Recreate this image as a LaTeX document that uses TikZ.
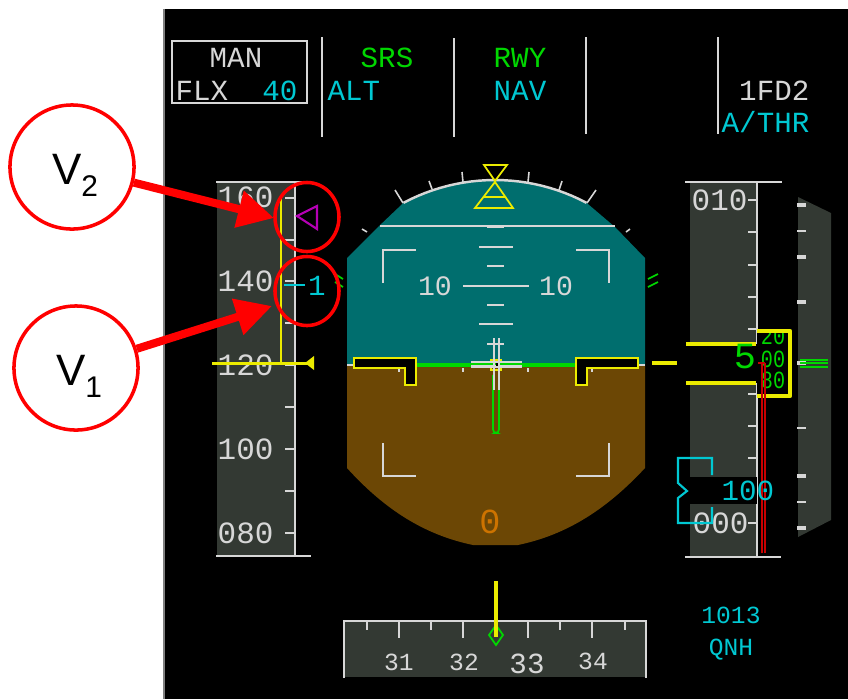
\documentclass[tikz,border=0pt]{standalone}
\usepackage{fontspec}
\setmainfont{Liberation Sans}
\setmonofont{Liberation Mono}
\usetikzlibrary{arrows.meta,shapes.geometric}

\definecolor{skyc}{RGB}{0,110,110}
\definecolor{groundc}{RGB}{108,71,5}
\definecolor{tapec}{RGB}{51,57,51}
\definecolor{linec}{RGB}{215,215,215}
\definecolor{cyanc}{RGB}{0,200,210}
\definecolor{greenc}{RGB}{0,215,0}
\definecolor{yellowc}{RGB}{235,235,0}
\definecolor{redc}{RGB}{200,0,0}
\definecolor{magc}{RGB}{180,0,180}
\definecolor{orangec}{RGB}{205,115,0}

\newcommand{\subnum}[1]{\raisebox{-.5ex}{\fontsize{8.5}{9}\selectfont #1}}

\tikzset{
  pfd/.style={font=\ttfamily\fontsize{8.3}{9}\selectfont, text=linec, inner sep=0pt, text height=5.5pt, text depth=0pt},
  tapenum/.style={pfd, font=\ttfamily\fontsize{8.8}{9}\selectfont, text height=5.8pt},
  small/.style={pfd, font=\ttfamily\fontsize{7}{8}\selectfont, text height=4.6pt},
  rolldigit/.style={small, text=greenc, xscale=.82, transform shape},
  wline/.style={draw=linec, line width=.45pt},
  yline/.style={draw=yellowc, line width=1.2pt},
  callout/.style={draw=red, fill=white, circle, line width=1pt, minimum size=1.24cm, inner sep=0pt, font=\fontsize{12.5}{13}\selectfont, text height=10.2pt, text depth=0pt},
  ring/.style={draw=red, ellipse, line width=1pt, minimum width=.64cm, minimum height=.69cm, inner sep=0pt},
  pointer/.style={draw=red, line width=2.3pt, -{Triangle[length=.36cm,width=.36cm]}},
  wing/.style={draw=yellowc, fill=black, line width=.6pt},
}

\begin{document}
\begin{tikzpicture}[x=.01cm, y=-.01cm]

\useasboundingbox (0,0) rectangle (848,699);
\fill[white] (0,0) rectangle (848,699);
\fill[black] (165,9) rectangle (848,699);
\draw[gray, line width=.6pt] (164,9) -- (164,699);

% mode boxes along the top
\draw[wline] (172,41) rectangle (307,103);
\foreach \x/\a/\b in {322/37/137, 454/38/137, 586/37/134, 718/37/134}
  \draw[wline] (\x,\a) -- (\x,\b);
\node[pfd] (man) at (236,58) {MAN};
\node[pfd, anchor=west] (flx) at (175,90.5) {FLX};
\node[pfd, text=cyanc, anchor=east] (flxdeg) at (298,90.5) {40};
\node[pfd, text=greenc] (srs) at (387,58) {SRS};
\node[pfd, text=cyanc, anchor=west] (alt) at (327,90.5) {ALT};
\node[pfd, text=greenc] (rwy) at (520,58) {RWY};
\node[pfd, text=cyanc] (nav) at (520,90.5) {NAV};
\node[pfd, anchor=east] (fd) at (810,91) {1FD2};
\node[pfd, text=cyanc, anchor=east] (athr) at (810,123) {A/THR};

% attitude sphere
\fill[skyc] (347,365) -- (347,258) -- (378,227)
  -- plot[domain=118:62, samples=25] ({495+195*cos(\x)},{375-195*sin(\x)})
  -- (615,227) -- (645,258) -- (645,365) -- cycle;
\fill[groundc] (347,365) -- (347,468) .. controls (385,510) and (425,535) .. (473,545)
  -- (518,545) .. controls (566,535) and (606,510) .. (645,468) -- (645,365) -- cycle;
\draw[linec, line width=.7pt] plot[domain=118:62, samples=25] ({495+195*cos(\x)},{375-195*sin(\x)});
\foreach \a/\b/\c/\d in {403/203/395/190, 432/189/429/181, 463/182/462/172, 528/182/529/172,
    559/190/562/181, 587/203/596/190, 367/232/362/229, 626/232/630/229}
  \draw[wline] (\a,\b) -- (\c,\d);
\foreach \a/\b in {343/279, 343/287}
  \draw[greenc, line width=.5pt] (\a,\b) -- (\a-8,\b-5);
\foreach \a/\b in {648/279, 648/287}
  \draw[greenc, line width=.5pt] (\a,\b) -- (\a+10,\b-5);

\draw[yellowc, line width=.5pt] (484,165) -- (507,165) -- (495,181) -- cycle;
\draw[yellowc, line width=.5pt] (495,182) -- (475,208) -- (513,208) -- cycle (484,197) -- (506,197);

% pitch ladder
\draw[wline] (380,226) -- (615,226);
\draw[wline, line width=.8pt] (487,227) -- (504,227);
\foreach \y/\a/\b in {247/479/513, 266/487/504, 286/463/529, 305/487/504, 324/479/513, 344/487/504}
  \draw[wline] (\a,\y) -- (\b,\y);
\node[pfd, font=\ttfamily\fontsize{8}{9}\selectfont] (pitchl) at (435,286) {10};
\node[pfd, font=\ttfamily\fontsize{8}{9}\selectfont] (pitchr) at (556,286) {10};
\draw[wline] (383,283) -- (383,250) -- (416,250);
\draw[wline] (576,250) -- (609,250) -- (609,283);
\draw[wline] (383,443) -- (383,476) -- (416,476);
\draw[wline] (609,443) -- (609,476) -- (576,476);

% horizon and aircraft symbol
\draw[wline, line width=.7pt] (347,365) -- (354,365) (638,365) -- (645,365);
\foreach \x in {399,463,528,592}
  \draw[wline] (\x,368) -- (\x,372);
\draw[greenc, line width=.5pt, rounded corners=1pt] (493,375) -- (493,433) -- (499,433) -- (499,375);
\draw[yellowc, line width=.7pt] (491,360) rectangle (501,370);
\draw[greenc, line width=1.1pt] (416,365) -- (576,365);
\draw[wline] (494,338) -- (494,390) (499,338) -- (499,390);
\draw[wline, line width=.7pt] (471,362) -- (522,362) (471,366.5) -- (522,366.5);
\fill[black] (495.5,363) rectangle (497.5,366);
\draw[wing] (354,358) -- (416,358) -- (416,385) -- (405,385) -- (405,368) -- (354,368) -- cycle;
\draw[wing] (576,358) -- (638,358) -- (638,368) -- (587,368) -- (587,385) -- (576,385) -- cycle;
\draw[yline] (652,363) -- (677,363);
\node[pfd, text=orangec, font=\ttfamily\fontsize{10}{10}\selectfont, text height=6.4pt] (orangezero) at (490,522) {0};

% speed tape
\fill[tapec] (217,183) rectangle (295,556);
\draw[wline] (295,183) -- (295,556);
\draw[wline] (216,182) -- (310,182) (216,556) -- (311,556);
\foreach \y in {198,240,281,323,365,407,449,491,533}
  \draw[wline] (285,\y) -- (295,\y);
\foreach \y/\spd in {197/160, 281/140, 365/120, 449/100, 533/080}
  \node[tapenum, anchor=west] (spd\spd) at (217,\y) {\spd};
\draw[yellowc, line width=.5pt] (281,197) -- (281,363);
\draw[yline, line width=.85pt] (212,363) -- (308,363);
\fill[yellowc] (305,363) -- (314,356) -- (314,370) -- cycle;
\draw[magc, line width=.6pt] (297,216) -- (317,206) -- (317,229) -- cycle;
\draw[cyanc, line width=.6pt] (284,285) -- (305,285);
\node[pfd, text=cyanc] (vone) at (317,286) {1};

% altitude tape
\fill[tapec] (690,183) rectangle (757,556);
\draw[wline] (757,183) -- (757,556);
\draw[wline] (685,182) -- (782,182) (685,557) -- (781,557);
\foreach \y in {200,232,265,297,329,394,426,458,491,523}
  \draw[wline] (748,\y) -- (757,\y);
\fill[black] (690,344) rectangle (757,383);
\fill[black] (690,477) rectangle (757,504);
\fill[black] (757,331) rectangle (790,396);
\node[tapenum, anchor=west] (alt010) at (691,200) {010};
\node[tapenum, anchor=west] (alt000) at (692,523) {000};
\draw[yline] (686,344) -- (756,344);
\draw[yline] (686,383) -- (756,383);
\draw[yline, line join=round] (757,331) -- (790,331) -- (790,396) -- (757,396);
\begin{scope}
  \clip (757,333) rectangle (788,394);
  \node[rolldigit] (rollup) at (773,336) {20};
  \node[rolldigit] (rollmid) at (773,359) {00};
  \node[rolldigit] (rolldown) at (773,380) {80};
\end{scope}
\node[pfd, text=greenc, font=\ttfamily\fontsize{10.5}{10}\selectfont, text height=6.6pt] (altfive) at (745,357) {5};
\draw[redc, line width=.5pt] (762,363) -- (762,553) (765,363) -- (765,553) (758,363) -- (765,363);
\draw[cyanc, line width=.6pt] (712,475) -- (712,458) -- (678,458) -- (678,483) -- (687,491)
  -- (678,498) -- (678,523) -- (712,523) -- (712,507);
\node[pfd, text=cyanc, anchor=west] (altsel) at (721,491) {100};

% vertical speed scale
\fill[tapec] (798,197) -- (831,213) -- (831,520) -- (798,537) -- cycle;
\foreach \y in {205,257,302,476,528}
  \draw[linec, line width=1pt] (797,\y) -- (806,\y);
\foreach \y in {231,428,502}
  \draw[linec, line width=.5pt] (797,\y) -- (806,\y);
\draw[linec, line width=1.2pt] (797,363) -- (806,363);
\foreach \y in {360,363,367}
  \draw[greenc, line width=.5pt] (800,\y) -- (828,\y);

% heading tape
\fill[tapec] (344,622) rectangle (646,677);
\draw[wline] (344,678) -- (344,621) -- (646,621) -- (646,678);
\foreach \x in {367,431,560,625}
  \draw[wline] (\x,621) -- (\x,630);
\foreach \x in {399,463,528,592}
  \draw[wline] (\x,621) -- (\x,638);
\begin{scope}
  \clip (344,640) rectangle (349,677);
  \node[small] (hdg30) at (337,662) {0};
\end{scope}
\node[small] (hdg31) at (399,662) {31};
\node[small] (hdg32) at (464,662) {32};
\node[pfd] (hdg33) at (527,664) {33};
\node[small] (hdg34) at (593,661) {34};
\draw[greenc, line width=.5pt] (496,625) -- (503,635) -- (496,645) -- (489,635) -- cycle;
\draw[yline] (496,581) -- (496,637);
\node[small, text=cyanc] (qnhval) at (731,615) {1013};
\node[small, text=cyanc] (qnh) at (731,647) {QNH};

% red callouts
\node[ring] (V2ring) at (307,217) {};
\node[ring] (V1ring) at (307,291) {};
\node[callout] (V2) at (72,167) {\hspace*{1.7pt}V\subnum{2}};
\node[callout] (V1) at (76,368) {\hspace*{1.7pt}V\subnum{1}};
\coordinate (V2tip) at (274,218);
\coordinate (V1tip) at (272,306);
\draw[pointer] (V2) -- (V2tip);
\draw[pointer] (V1) -- (V1tip);

\end{tikzpicture}
\end{document}
